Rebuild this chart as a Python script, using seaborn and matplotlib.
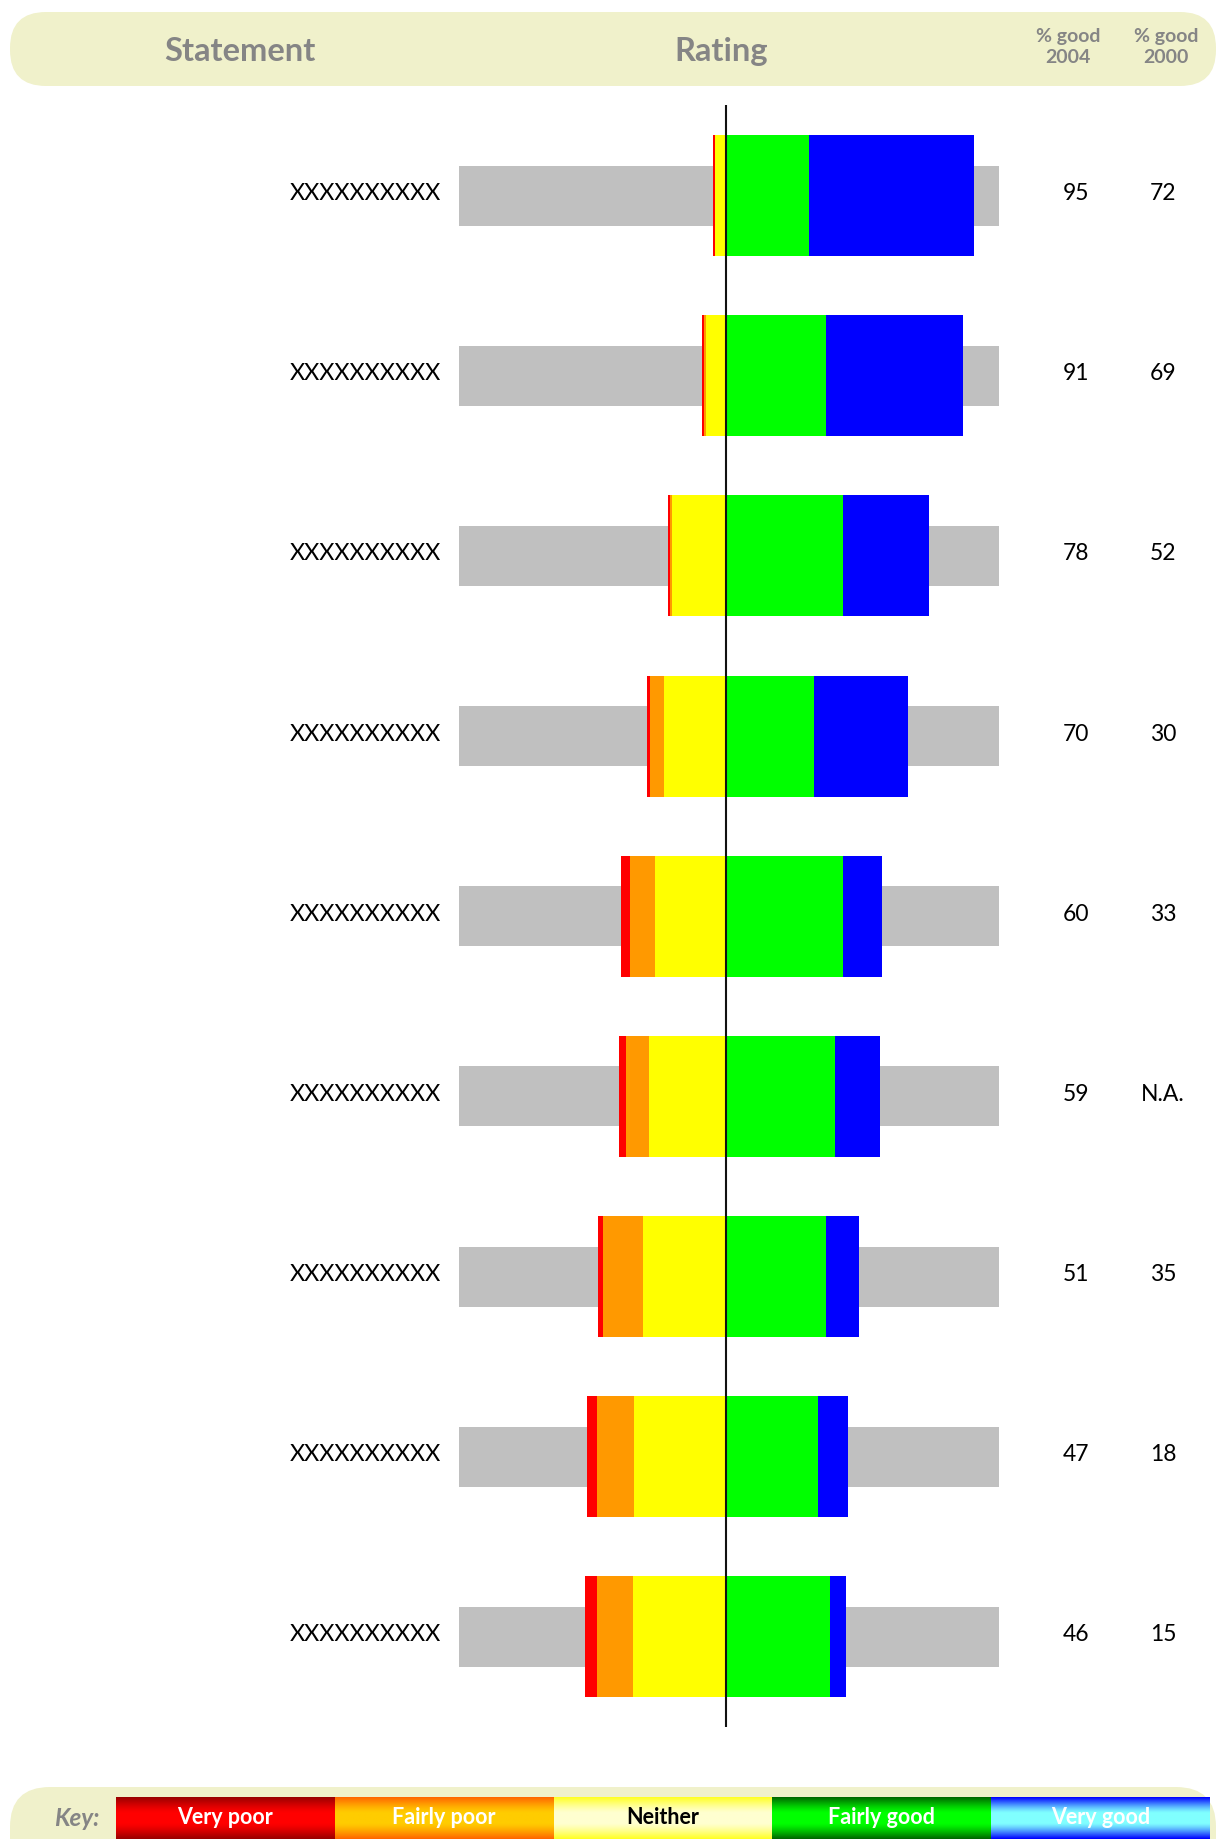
import numpy as np
import pandas as pd
import matplotlib
matplotlib.use("Agg")
import matplotlib.pyplot as plt
import matplotlib.transforms as mtransforms
from matplotlib.patches import FancyBboxPatch
import seaborn as sns

# ---- data -------------------------------------------------------------
statements = ["XXXXXXXXXX"] * 9
very_poor = [1.0, 0.7, 0.8, 0.8, 3.5, 2.7, 2.0, 3.8, 4.6]
fairly_poor = [0.0, 0.8, 0.8, 5.7, 9.5, 8.8, 15.3, 14.2, 13.8]
neither = [4.0, 7.5, 20.4, 23.5, 27.0, 29.5, 31.7, 35.0, 35.6]
fairly_good = [32.0, 38.5, 44.8, 34.0, 45.0, 42.0, 38.5, 35.2, 40.0]
good_2004 = [95, 91, 78, 70, 60, 59, 51, 47, 46]          # fairly good + very good
good_2000 = ["72", "69", "52", "30", "33", "N.A.", "35", "18", "15"]
scale_labels = ["Very poor", "Fairly poor", "Neither", "Fairly good", "Very good"]
scale_left, scale_right = -102.2, 104.7                     # extent of the grey track

colors = {"Very poor": "#FF0000", "Fairly poor": "#FF9900", "Neither": "#FFFF00",
          "Fairly good": "#00FF00", "Very good": "#0000FF"}
GREY = "#C0C0C0"
HEAD_BG = "#F0F1CB"
HEAD_FG = "#858585"

# ---- styling ----------------------------------------------------------
sns.set_style("white")
plt.rcParams["font.family"] = ["Lato", "DejaVu Sans"]

W, H = 1218, 1839
fig = plt.figure(figsize=(W / 100, H / 100), dpi=100)
fig.patch.set_facecolor("white")

def px_box(x0, y0, x1, y1):
    return [x0 / W, 1 - y1 / H, (x1 - x0) / W, (y1 - y0) / H]

# decoration layer (header band, key) in pixel units
deco = fig.add_axes([0, 0, 1, 1], zorder=0)
deco.set_xlim(0, W)
deco.set_ylim(H, 0)
deco.axis("off")

# main chart
ax = fig.add_axes(px_box(459, 105.5, 999, 1727), zorder=1)
ax.set_facecolor("none")

df = pd.DataFrame({
    "row": np.arange(len(statements)),
    "track_left": [scale_left] * len(statements),
    "track_right": [scale_right] * len(statements),
    "neg_vp": -(np.array(very_poor) + np.array(fairly_poor) + np.array(neither)),
    "neg_fp": -(np.array(fairly_poor) + np.array(neither)),
    "neg_n": -np.array(neither),
    "pos_vg": np.array(good_2004, dtype=float),
    "pos_fg": np.array(fairly_good),
})

common = dict(data=df, y="row", orient="h", saturation=1, errorbar=None,
              linewidth=0, ax=ax)
sns.barplot(x="track_left", color=GREY, width=0.333, **common)
sns.barplot(x="track_right", color=GREY, width=0.333, **common)
sns.barplot(x="neg_vp", color=colors["Very poor"], width=0.671, **common)
sns.barplot(x="neg_fp", color=colors["Fairly poor"], width=0.671, **common)
sns.barplot(x="neg_n", color=colors["Neither"], width=0.671, **common)
sns.barplot(x="pos_vg", color=colors["Very good"], width=0.671, **common)
sns.barplot(x="pos_fg", color=colors["Fairly good"], width=0.671, **common)

ax.axvline(0, color="#111111", lw=1.5, zorder=5)

ax.set_xlim(scale_left, scale_right)
ax.set_ylim(len(statements) - 0.5, -0.5)
ax.set_xlabel("")
ax.set_ylabel("")
ax.set_xticks([])
ax.set_yticks(range(len(statements)))
ax.set_yticklabels(statements, fontsize=16.8, color="black", va="center")
ax.tick_params(axis="y", length=0, pad=13)
for s in ax.spines.values():
    s.set_visible(False)

# row text sits a couple of pixels above the bar centre
lift = mtransforms.ScaledTranslation(0, 2 / 100, fig.dpi_scale_trans)
for lbl in ax.get_yticklabels():
    lbl.set_transform(lbl.get_transform() + lift)

# percentage columns
col_tf = mtransforms.blended_transform_factory(fig.transFigure, ax.transData) + lift
for i in range(len(statements)):
    ax.text(1076 / W, i, f"{good_2004[i]}", transform=col_tf, ha="center",
            va="center", fontsize=16.5, color="black", clip_on=False)
    ax.text(1163 / W, i, good_2000[i], transform=col_tf, ha="center",
            va="center", fontsize=16.5, color="black", clip_on=False)

# ---- header band ------------------------------------------------------
deco.add_patch(FancyBboxPatch((10, 12), 1206, 74,
                              boxstyle="round,pad=0,rounding_size=36",
                              fc=HEAD_BG, ec="none"))
deco.text(240, 49, "Statement", ha="center", va="center_baseline", fontsize=23.5,
          fontweight="bold", color=HEAD_FG)
deco.text(721, 49, "Rating", ha="center", va="center_baseline", fontsize=23.5,
          fontweight="bold", color=HEAD_FG)
deco.text(1068, 47, "% good\n2004", ha="center", va="center", fontsize=14,
          fontweight="bold", color=HEAD_FG, linespacing=1.3)
deco.text(1166, 47, "% good\n2000", ha="center", va="center", fontsize=14,
          fontweight="bold", color=HEAD_FG, linespacing=1.3)

# ---- key --------------------------------------------------------------
deco.add_patch(FancyBboxPatch((10, 1787), 1206, 100,
                              boxstyle="round,pad=0,rounding_size=40",
                              fc=HEAD_BG, ec="none", clip_on=True))
deco.text(99, 1817, "Key:", ha="right", va="center_baseline", fontsize=17.5,
          fontstyle="italic", fontweight="bold", color=HEAD_FG)

key_grad = {
    "Very poor": ("#990000", "#FF0000"),
    "Fairly poor": ("#FF6600", "#FFCC00"),
    "Neither": ("#FFFF22", "#FFFFD0"),
    "Fairly good": ("#006600", "#00FF00"),
    "Very good": ("#0000FF", "#80FFFF"),
}
key_text = {"Very poor": "white", "Fairly poor": "white", "Neither": "black",
            "Fairly good": "white", "Very good": "white"}
kx0, kx1, ky0, ky1 = 116, 1210, 1797, 1839
kw = (kx1 - kx0) / len(scale_labels)
t = np.abs(np.linspace(-1, 1, 64))
prof = np.clip((t - 0.25) / 0.75, 0, 1) ** 1.3
for i, lab in enumerate(scale_labels):
    edge, mid = (np.array(matplotlib.colors.to_rgb(c)) for c in key_grad[lab])
    grad = mid[None, :] + (edge - mid)[None, :] * prof[:, None]
    x0 = kx0 + i * kw
    deco.imshow(grad[:, None, :], extent=[x0, x0 + kw, ky1, ky0],
                aspect="auto", interpolation="bilinear", zorder=2)
    deco.text(x0 + kw / 2, 1816, lab, ha="center", va="center_baseline",
              fontsize=15.5, fontweight="bold", color=key_text[lab], zorder=3)
deco.set_xlim(0, W)
deco.set_ylim(H, 0)

fig.savefig("out.png", dpi=100, facecolor="white")
